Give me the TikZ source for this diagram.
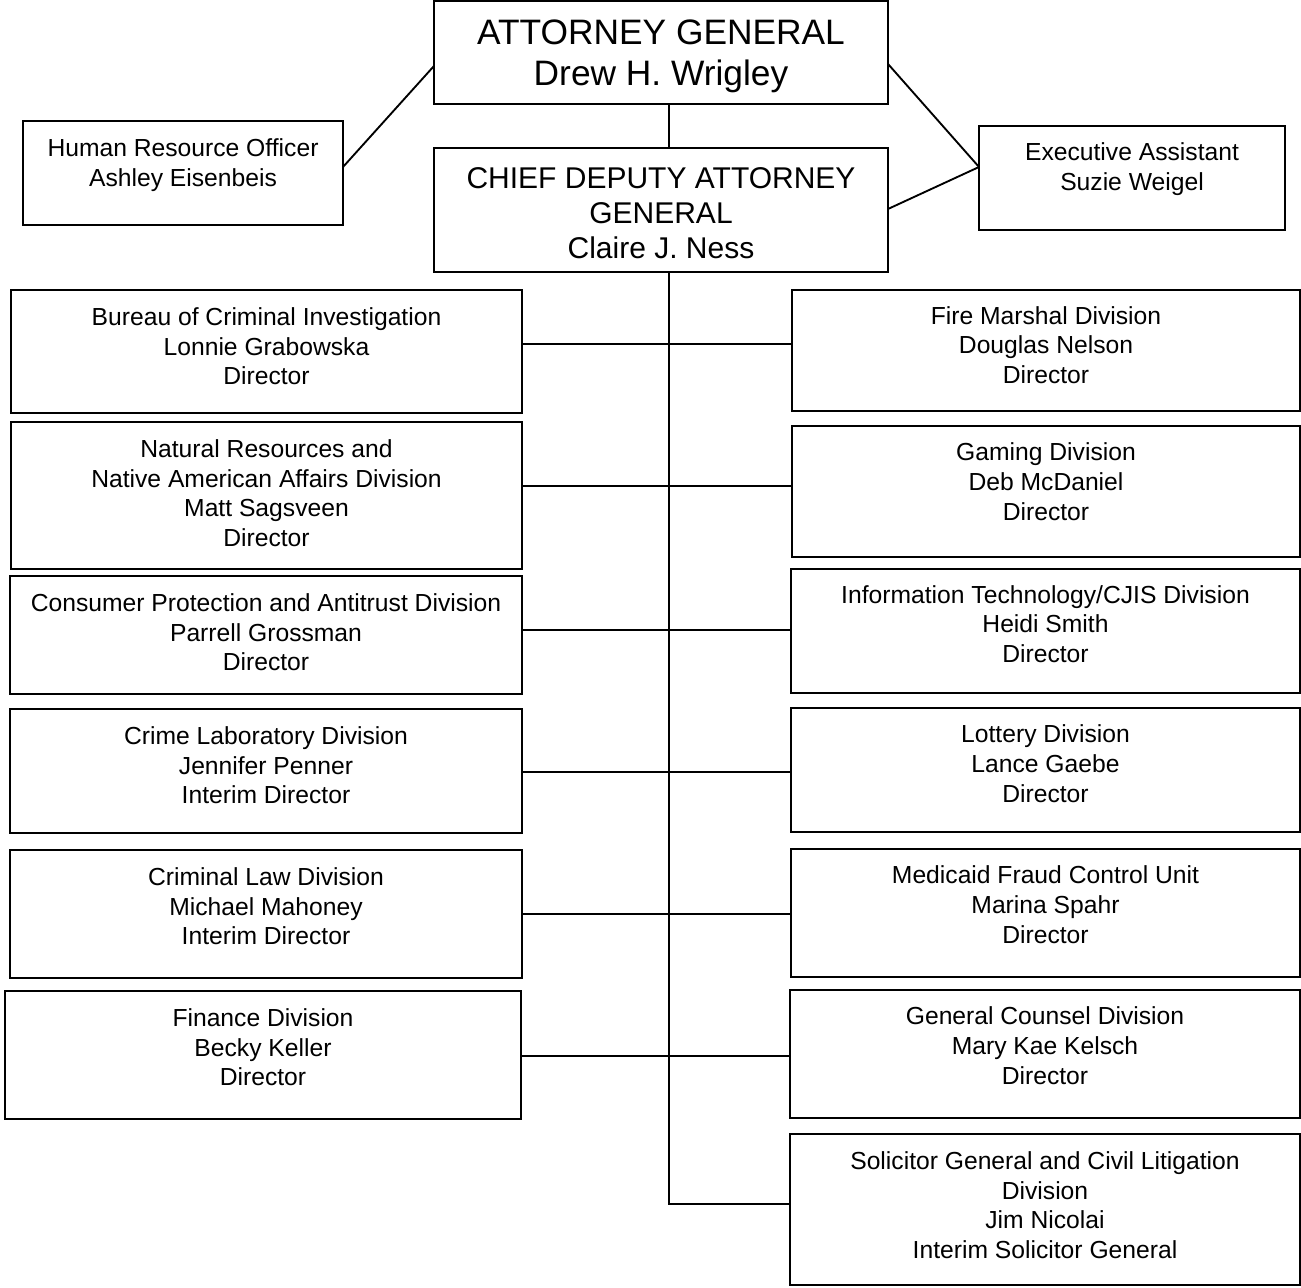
\documentclass[tikz,border=0pt]{standalone}
\usepackage{fontspec}
\setmainfont{Liberation Sans}
\tikzset{
  x=0.75pt, y=-0.75pt,
  box/.style={draw, line width=1.4pt, inner sep=0pt, outer sep=0pt,
    font=\fontsize{18.5}{22.3}\selectfont},
  conn/.style={line width=1.4pt},
}
% name, x1, y1, x2, y2, first-baseline (pt), text
\newcommand\obox[7]{%
  \pgfmathsetmacro\bw{(#4-#2)*0.75}%
  \pgfmathsetmacro\bh{(#5-#3)*0.75}%
  \node[box] (#1) at ({(#2+#4)/2},{(#3+#5)/2})
    {\parbox[c][\bh pt][t]{\bw pt}{\centering\rule{0pt}{#6pt}#7}};%
}
\begin{document}
\begin{tikzpicture}
\useasboundingbox (0,0) rectangle (1301,1287);
% top
\node[box, minimum width=340.5pt, minimum height=77.25pt,
  font=\fontsize{26.5}{30.75}\selectfont] (ag) at (661,52.5)
  {\parbox[c][77.25pt][t]{340.5pt}{\centering\rule{0pt}{33pt}ATTORNEY GENERAL\\Drew H. Wrigley}};
\node[box, minimum width=340.5pt, minimum height=93pt,
  font=\fontsize{22.5}{26.4}\selectfont] (cd) at (661,210)
  {\parbox[c][93pt][t]{340.5pt}{\centering\rule{0pt}{30.3pt}CHIEF DEPUTY ATTORNEY\\GENERAL\\Claire J. Ness}};
\obox{hr}{23}{121}{343}{225}{26.5}{Human Resource Officer\\Ashley Eisenbeis}
\obox{ea}{979}{126}{1285}{230}{26.2}{Executive Assistant\\Suzie Weigel}
% left column
\obox{bci}{11}{290}{522}{413}{26.6}{Bureau of Criminal Investigation\\Lonnie Grabowska\\Director}
\obox{nr}{11}{422}{522}{569}{26.6}{Natural Resources and\\Native American Affairs Division\\Matt Sagsveen\\Director}
\obox{cp}{10}{576}{522}{694}{26.6}{Consumer Protection and Antitrust Division\\Parrell Grossman\\Director}
\obox{cl}{10}{709}{522}{833}{26.6}{Crime Laboratory Division\\Jennifer Penner\\Interim Director}
\obox{crl}{10}{850}{522}{978}{26.6}{Criminal Law Division\\Michael Mahoney\\Interim Director}
\obox{fin}{5}{991}{521}{1119}{26.6}{Finance Division\\Becky Keller\\Director}
% right column
\obox{fm}{792}{290}{1300}{411}{25.6}{Fire Marshal Division\\Douglas Nelson\\Director}
\obox{gam}{792}{426}{1300}{557}{25.9}{Gaming Division\\Deb McDaniel\\Director}
\obox{it}{791}{569}{1300}{693}{25.6}{Information Technology/CJIS Division\\Heidi Smith\\Director}
\obox{lot}{791}{708}{1300}{832}{25.9}{Lottery Division\\Lance Gaebe\\Director}
\obox{med}{791}{849}{1300}{977}{25.9}{Medicaid Fraud Control Unit\\Marina Spahr\\Director}
\obox{gc}{790}{990}{1300}{1118}{25.9}{General Counsel Division\\Mary Kae Kelsch\\Director}
\obox{sol}{790}{1134}{1300}{1285}{26.6}{Solicitor General and Civil Litigation\\Division\\Jim Nicolai\\Interim Solicitor General}
% junction coordinates
\coordinate (j1) at (669,344);
\coordinate (j2) at (669,486);
\coordinate (j3) at (669,630);
\coordinate (j4) at (669,772);
\coordinate (j5) at (669,914);
\coordinate (j6) at (669,1056);
\coordinate (tb) at (669,1204);
% connectors
\draw[conn] (ag.south -| tb) -- (cd.north -| tb);
\draw[conn] (cd.south -| tb) -- (tb) -- (sol.west |- tb);
\draw[conn] (bci.east |- j1) -- (fm.west |- j1);
\draw[conn] (nr.east |- j2) -- (gam.west |- j2);
\draw[conn] (cp.east |- j3) -- (it.west |- j3);
\draw[conn] (cl.east |- j4) -- (lot.west |- j4);
\draw[conn] (crl.east |- j5) -- (med.west |- j5);
\draw[conn] (fin.east |- j6) -- (gc.west |- j6);
\draw[conn] ([yshift=-10.1pt]ag.west) -- ([yshift=4.5pt]hr.east);
\draw[conn] ([yshift=-8.6pt]ag.east) -- ([yshift=8.25pt]ea.west);
\draw[conn] ([yshift=0.75pt]cd.east) -- ([yshift=8.25pt]ea.west);
\end{tikzpicture}
\end{document}
